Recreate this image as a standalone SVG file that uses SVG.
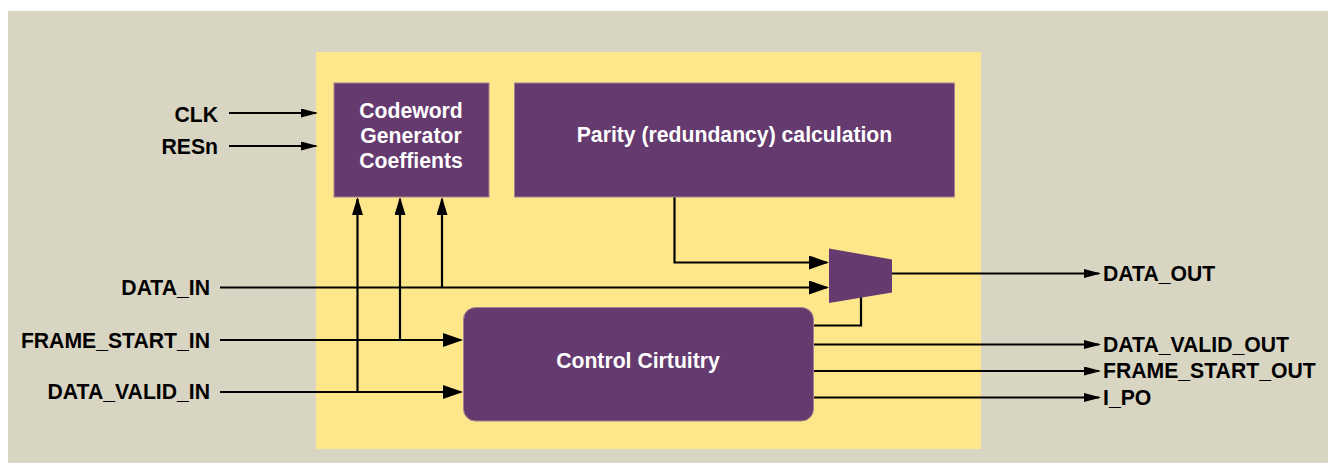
<svg xmlns="http://www.w3.org/2000/svg" width="1333" height="470" viewBox="0 0 1333 470">
<style>
.lbl{font-family:"Liberation Sans",Arial,sans-serif;font-weight:bold;font-size:21.2px;fill:#000}
.wt{font-family:"Liberation Sans",Arial,sans-serif;font-weight:bold;font-size:21.2px;fill:#fff}
.blk{fill:#653a6f;stroke:#a3848f;stroke-width:1}
.w{fill:none;stroke:#000;stroke-width:2.2}
</style>
<defs>
<marker id="aL" markerUnits="userSpaceOnUse" markerWidth="20" markerHeight="14" refX="18" refY="7" orient="auto">
<path d="M0,0 L20,7 L0,14 z" fill="#000"/>
</marker>
<marker id="aM" markerUnits="userSpaceOnUse" markerWidth="18" markerHeight="11" refX="16" refY="5.5" orient="auto">
<path d="M0,0 L18,5.5 L0,11 z" fill="#000"/>
</marker>
<marker id="aS" markerUnits="userSpaceOnUse" markerWidth="17" markerHeight="9" refX="15" refY="4.5" orient="auto">
<path d="M0,0 L17,4.5 L0,9 z" fill="#000"/>
</marker>
</defs>
<rect x="0" y="0" width="1333" height="470" fill="#fff"/>
<rect x="8" y="11" width="1320" height="452" fill="#d8d5c2"/>
<rect x="316" y="52" width="665" height="397" fill="#fee78a"/>

<g id="connectors">
<path class="w" d="M229,113 H316" marker-end="url(#aS)"/>
<path class="w" d="M229,146 H316" marker-end="url(#aS)"/>
<path class="w" d="M220,287.5 H827" marker-end="url(#aL)"/>
<path class="w" d="M220,340 H461" marker-end="url(#aL)"/>
<path class="w" d="M220,392 H461" marker-end="url(#aL)"/>
<path class="w" d="M357.5,392 V199" marker-end="url(#aM)"/>
<path class="w" d="M400,340 V199" marker-end="url(#aM)"/>
<path class="w" d="M442,287.5 V199" marker-end="url(#aM)"/>
<path class="w" d="M674.5,197 V262.5 H827" marker-end="url(#aL)"/>
<path class="w" d="M892,273.5 H1099" marker-end="url(#aS)"/>
<path class="w" d="M813,325.5 H861 V297"/>
<path class="w" d="M813,344.5 H1099" marker-end="url(#aS)"/>
<path class="w" d="M813,371 H1099" marker-end="url(#aS)"/>
<path class="w" d="M813,397.5 H1099" marker-end="url(#aS)"/>
</g>

<g id="codeword">
<rect class="blk" x="334" y="83" width="155" height="114"/>
<text class="wt" x="411" y="118" text-anchor="middle">Codeword</text>
<text class="wt" x="411" y="143" text-anchor="middle">Generator</text>
<text class="wt" x="411" y="168" text-anchor="middle">Coeffients</text>
</g>

<g id="parity">
<rect class="blk" x="514.5" y="83" width="440" height="114"/>
<text class="wt" x="734.5" y="141.5" text-anchor="middle">Parity (redundancy) calculation</text>
</g>

<g id="mux">
<polygon points="829,248.5 892,259.5 892,292.5 829,303" fill="#653a6f"/>
</g>

<g id="control">
<rect class="blk" x="463.5" y="307.5" width="350" height="113.5" rx="12" ry="12"/>
<text class="wt" x="638" y="367.5" text-anchor="middle">Control Cirtuitry</text>
</g>

<g id="labels">
<text class="lbl" x="218" y="121.5" text-anchor="end">CLK</text>
<text class="lbl" x="218" y="154" text-anchor="end">RESn</text>
<text class="lbl" x="210" y="294.5" text-anchor="end">DATA_IN</text>
<text class="lbl" x="210" y="347.5" text-anchor="end">FRAME_START_IN</text>
<text class="lbl" x="210" y="399" text-anchor="end">DATA_VALID_IN</text>
<text class="lbl" x="1103" y="281">DATA_OUT</text>
<text class="lbl" x="1103" y="351.5">DATA_VALID_OUT</text>
<text class="lbl" x="1103" y="378">FRAME_START_OUT</text>
<text class="lbl" x="1103" y="404.5">I_PO</text>
</g>
</svg>
